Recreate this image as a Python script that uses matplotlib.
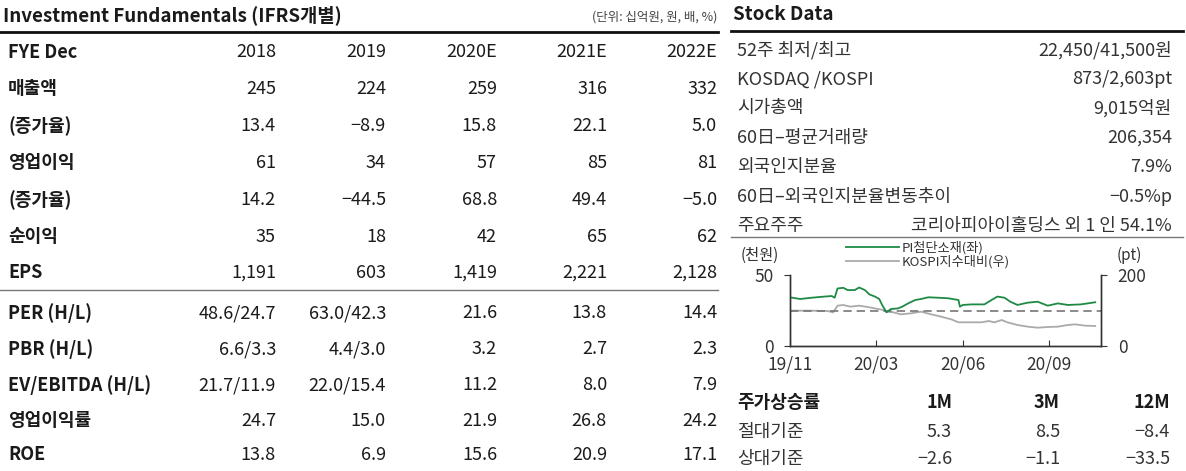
import matplotlib
matplotlib.use('Agg')
import matplotlib.pyplot as plt
from matplotlib.lines import Line2D

plt.rcParams['font.family'] = ['Liberation Sans Narrow', 'Noto Sans CJK KR', 'DejaVu Sans']

W, H = 1186, 471

# ---- Investment Fundamentals table ----
fund_rows = ['매출액', '(증가율)', '영업이익', '(증가율)', '순이익', 'EPS',
             'PER (H/L)', 'PBR (H/L)', 'EV/EBITDA (H/L)', '영업이익률', 'ROE']
years = ['2018', '2019', '2020E', '2021E', '2022E']
v2018 = ['245', '13.4', '61', '14.2', '35', '1,191', '48.6/24.7', '6.6/3.3', '21.7/11.9', '24.7', '13.8']
v2019 = ['224', '−8.9', '34', '−44.5', '18', '603', '63.0/42.3', '4.4/3.0', '22.0/15.4', '15.0', '6.9']
v2020 = ['259', '15.8', '57', '68.8', '42', '1,419', '21.6', '3.2', '11.2', '21.9', '15.6']
v2021 = ['316', '22.1', '85', '49.4', '65', '2,221', '13.8', '2.7', '8.0', '26.8', '20.9']
v2022 = ['332', '5.0', '81', '−5.0', '62', '2,128', '14.4', '2.3', '7.9', '24.2', '17.1']

# ---- Stock Data ----
stock_labels = ['52주 최저/최고', 'KOSDAQ /KOSPI', '시가총액', '60日–평균거래량',
                '외국인지분율', '60日–외국인지분율변동추이', '주요주주']
stock_values = ['22,450/41,500원', '873/2,603pt', '9,015억원', '206,354',
                '7.9%', '−0.5%p', '코리아피아이홀딩스 외 1 인 54.1%']

# ---- 주가상승률 ----
periods = ['1M', '3M', '12M']
abs_ret = ['5.3', '8.5', '−8.4']
rel_ret = ['−2.6', '−1.1', '−33.5']

# ---- price chart (trading-day index) ----
days = [0, 7, 15, 24, 29, 31, 33, 37, 40, 45, 48, 52, 55, 59, 62, 64, 67, 70, 75, 78,
        82, 87, 91, 96, 103, 110, 117, 118, 120, 126, 135, 140, 144, 149, 153, 158,
        165, 172, 179, 186, 193, 202, 212]
price = [34.3, 33.1, 34.0, 34.8, 35.2, 34.0, 40.5, 41.0, 39.4, 39.4, 41.2, 39.4, 36.4,
         34.8, 33.1, 28.9, 23.7, 26.0, 26.5, 27.7, 30.0, 32.4, 33.1, 34.3, 34.0, 33.6,
         32.4, 27.7, 28.9, 29.3, 29.3, 32.4, 34.8, 34.0, 31.2, 28.9, 30.5, 31.2, 28.4,
         30.0, 28.9, 29.3, 30.8]
rel_days = [0, 15, 26, 30, 33, 37, 42, 48, 54, 61, 65, 67, 72, 77, 84, 91, 98, 105, 112,
            117, 124, 133, 138, 142, 147, 151, 158, 165, 172, 179, 186, 193, 198, 205, 212]
rel = [99.5, 99.5, 98.6, 94.8, 113.6, 115.5, 110.8, 113.6, 109.9, 104.2, 101.4, 96.7,
       94.8, 89.2, 92.0, 96.7, 89.2, 82.6, 75.1, 66.7, 66.7, 66.7, 70.4, 66.7, 73.2,
       66.7, 59.2, 54.5, 51.6, 53.5, 54.5, 59.2, 61.0, 57.3, 56.3]
tick_days = [0, 60, 120, 180]
tick_labels = ['19/11', '20/03', '20/06', '20/09']

fig = plt.figure(figsize=(W / 100, H / 100), dpi=100)


def put(x, y, s, **kw):
    kw.setdefault('va', 'center')
    kw.setdefault('fontsize', 13)
    kw.setdefault('color', '#1a1a1a')
    fig.text(x / W, 1 - y / H, s, **kw)


def hline(x0, x1, y, **kw):
    fig.add_artist(Line2D([x0 / W, x1 / W], [1 - y / H] * 2,
                          transform=fig.transFigure, **kw))


# left block
put(3, 15, 'Investment Fundamentals (IFRS개별)', fontsize=13.5, fontweight='bold')
put(717, 17, '(단위: 십억원, 원, 배, %)', fontsize=9, ha='right', color='#444')
hline(0, 718, 32, color='#111', lw=2)

col_x = [276, 386, 497, 607, 717]
put(8, 52, 'FYE Dec', fontweight='bold')
for cx, yr in zip(col_x, years):
    put(cx, 52, yr, ha='right')

row_y = [89, 126, 163, 200, 237, 273, 313, 349, 385, 421, 455]
for i, (lab, ry) in enumerate(zip(fund_rows, row_y)):
    put(8, ry, lab, fontweight='bold')
    for cx, col in zip(col_x, [v2018, v2019, v2020, v2021, v2022]):
        put(cx, ry, col[i], ha='right')
hline(0, 718, 290, color='#777', lw=1)

# right block
put(733, 15, 'Stock Data', fontsize=13.5, fontweight='bold')
hline(731, 1183, 31, color='#111', lw=2)
stock_y = [50, 79, 108, 138, 167, 197, 226]
for lab, val, sy in zip(stock_labels, stock_values, stock_y):
    put(737, sy, lab, color='#333', fontweight='light')
    put(1172, sy, val, ha='right', color='#333', fontweight='light')
hline(731, 1183, 237, color='#777', lw=1)

ret_x = [952, 1060, 1170]
put(737, 402, '주가상승률', fontweight='bold')
for rx, p, a, r in zip(ret_x, periods, abs_ret, rel_ret):
    put(rx, 402, p, ha='right', fontweight='bold')
    put(rx, 432, a, ha='right', color='#333', fontweight='light')
    put(rx, 459, r, ha='right', color='#333', fontweight='light')
put(737, 432, '절대기준', color='#333', fontweight='light')
put(737, 459, '상대기준', color='#333', fontweight='light')

# chart
ax = fig.add_axes([790 / W, 1 - 346 / H, 311 / W, 71 / H])
ax2 = ax.twinx()
ax.set_zorder(ax2.get_zorder() + 1)
ax.patch.set_visible(False)

l1, = ax.plot(days, price, color='#1f8a46', lw=1.3)
l2, = ax2.plot(rel_days, rel, color='#aaaaaa', lw=1.3)
ax2.axhline(100, color='#777', lw=1.2, ls=(0, (5, 3)))

ax.set_xlim(0, 216)
ax.set_ylim(0, 50)
ax2.set_ylim(0, 200)
ax.set_yticks([0, 50])
ax2.set_yticks([0, 200])
ax.set_xticks(tick_days)
ax.set_xticklabels(tick_labels)

for a in (ax, ax2):
    for s in a.spines.values():
        s.set_color('#333')
        s.set_linewidth(1)
    a.spines['top'].set_visible(False)
ax.tick_params(axis='y', direction='out', length=4, pad=8, labelsize=12.5, colors='#333')
ax2.tick_params(axis='y', direction='out', length=4, pad=8, labelsize=12.5, colors='#333')
ax.tick_params(axis='x', direction='in', length=4, pad=7, labelsize=12.5, colors='#333')

put(760, 255, '(천원)', fontsize=11, ha='center', color='#333')
put(1129, 255, '(pt)', fontsize=11, ha='center', color='#333')

fig.legend([l1, l2], ['PI첨단소재(좌)', 'KOSPI지수대비(우)'], loc='upper left',
           bbox_to_anchor=(846 / W, 1 - 241 / H), frameon=False, fontsize=9.5,
           handlelength=4.0, handletextpad=0.2, labelspacing=0.05,
           borderpad=0, borderaxespad=0, labelcolor='#333')

fig.savefig('out.png', dpi=100)
